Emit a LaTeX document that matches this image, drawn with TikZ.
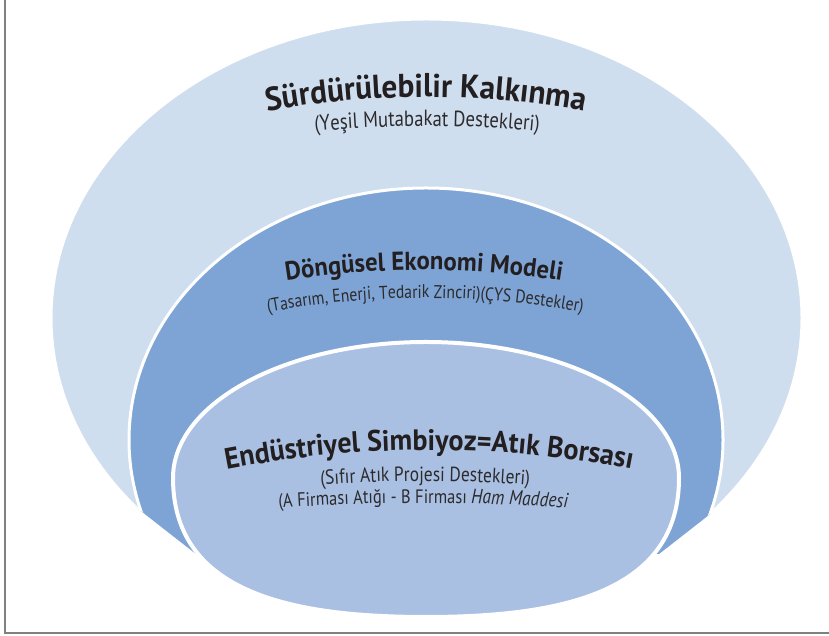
\documentclass[tikz,border=0pt]{standalone}
\usepackage{fontspec}
\setmainfont{PT Sans}
\newfontfamily\titlefont[FakeStretch=0.95]{PT Sans}
\newfontfamily\subfont[FakeStretch=0.85]{PT Sans}
\usetikzlibrary{decorations.text}
\definecolor{outerc}{RGB}{207,222,239}
\definecolor{midc}{RGB}{125,164,213}
\definecolor{innerc}{RGB}{169,192,227}
\definecolor{inkc}{RGB}{35,31,32}
\definecolor{subinkc}{RGB}{45,42,44}
\definecolor{framec}{RGB}{128,128,128}
\begin{document}
\begin{tikzpicture}[x=1pt,y=1pt,
  ring/.style={draw=white, line width=3pt},
  arctext/.style={decorate, decoration={text along path, text align=center, text={#1}}}]
\useasboundingbox (0,0) rectangle (829,636);
\fill[white] (0,0) rectangle (829,636);
% centres
\coordinate (co) at (426.5,318);
\coordinate (cm) at (426,196);
% outer and middle ellipses, cut at the bottom
\begin{scope}
  \clip (-10,646) -- (865,646) -- (865,243) -- (659,82) -- (196,82) -- (-10,243) -- cycle;
  \path[ring, fill=outerc] (co) ellipse [x radius=375.5pt, y radius=299pt];
  \path[ring, fill=midc] (cm) ellipse [x radius=297pt, y radius=252pt];
\end{scope}
% inner shape
\coordinate (il) at (173,158);
\coordinate (ib) at (426,19);
\path[draw=white, line width=4pt, fill=innerc]
  (il) arc[start angle=180, end angle=0, x radius=253pt, y radius=136pt]
       .. controls (679,46) and (567,19) .. (ib)
       .. controls (285,19) and (173,46) .. (il) -- cycle;
% frame
\draw[framec, line width=1.3pt] (5,636) -- (5,3) -- (829,3);
% titles
\coordinate (t1) at (426,-361);
\path[arctext={|\titlefont\bfseries\fontsize{33}{35}\selectfont\color{inkc}|Sürdürülebilir Kalkınma}]
  (t1) ++(110:900pt) arc[start angle=110, end angle=70, radius=900pt];
\coordinate (s1) at (427,-633);
\path[arctext={|\subfont\fontsize{22}{24}\selectfont\color{subinkc}|(Yeşil Mutabakat Destekleri)}]
  (s1) ++(105:1143pt) arc[start angle=105, end angle=75, radius=1143pt];
\coordinate (t2) at (424,-514);
\path[arctext={|\titlefont\bfseries\fontsize{26}{28}\selectfont\color{inkc}|Döngüsel Ekonomi Modeli}]
  (t2) ++(110:880pt) arc[start angle=110, end angle=70, radius=880pt];
\coordinate (s2) at (425,-519);
\path[arctext={|\subfont\fontsize{18.5}{20}\selectfont\color{subinkc}|(Tasarım, Enerji, Tedarik Zinciri)(ÇYS Destekler)}]
  (s2) ++(110:857pt) arc[start angle=110, end angle=70, radius=857pt];
\coordinate (t3) at (429,-884);
\path[arctext={|\titlefont\bfseries\fontsize{29.5}{31}\selectfont\color{inkc}|Endüstriyel Simbiyoz=Atık Borsası}]
  (t3) ++(107:1070pt) arc[start angle=107, end angle=73, radius=1070pt];
\coordinate (s3) at (425,-1175);
\path[arctext={|\subfont\fontsize{20.5}{22}\selectfont\color{subinkc}|(Sıfır Atık Projesi Destekleri)}]
  (s3) ++(103:1330pt) arc[start angle=103, end angle=77, radius=1330pt];
\coordinate (s4) at (423,-1967);
\path[arctext={|\subfont\fontsize{19.4}{21}\selectfont\color{subinkc}|(A Firması Atığı - B Firması |\subfont\itshape\fontsize{20.5}{22}\selectfont\color{subinkc}|Ham Maddesi}]
  (s4) ++(98:2100pt) arc[start angle=98, end angle=82, radius=2100pt];
\end{tikzpicture}
\end{document}
